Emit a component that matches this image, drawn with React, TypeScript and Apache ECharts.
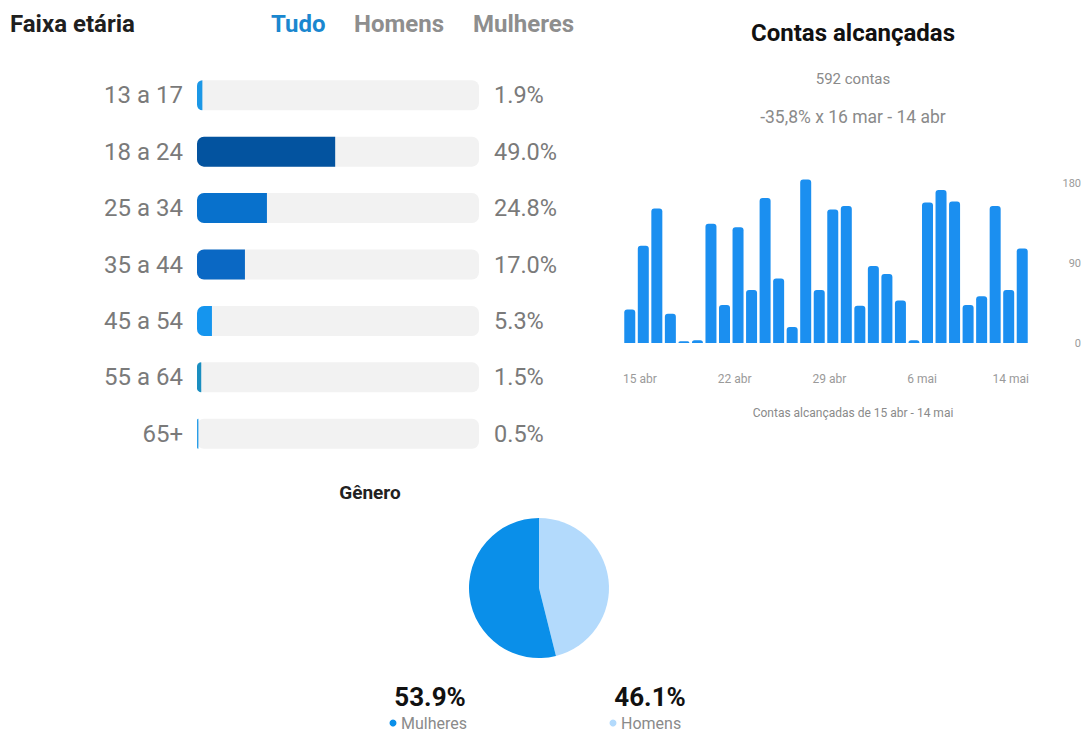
import React, { useEffect, useRef } from "react";
import * as echarts from "echarts";

const ageGroups = ["13 a 17", "18 a 24", "25 a 34", "35 a 44", "45 a 54", "55 a 64", "65+"];
const agePercents = [1.9, 49.0, 24.8, 17.0, 5.3, 1.5, 0.5];
const ageColors = ["#1b97e6", "#03539f", "#0871cc", "#0a68c4", "#1595ee", "#1a8ec0", "#2a9ee8"];
const filterTabs = ["Tudo", "Homens", "Mulheres"];

const reachDates = [
  "15 abr", "16 abr", "17 abr", "18 abr", "19 abr", "20 abr", "21 abr",
  "22 abr", "23 abr", "24 abr", "25 abr", "26 abr", "27 abr", "28 abr",
  "29 abr", "30 abr", "1 mai", "2 mai", "3 mai", "4 mai", "5 mai",
  "6 mai", "7 mai", "8 mai", "9 mai", "10 mai", "11 mai", "12 mai",
  "13 mai", "14 mai",
];
const reachValues = [
  38, 110, 152, 33, 2, 3, 135,
  43, 131, 60, 164, 73, 18, 185,
  60, 151, 155, 42, 87, 78, 48,
  3, 159, 173, 160, 43, 53, 155,
  60, 107,
];
const reachTickValues = [0, 90, 180];
const reachTickDays = [0, 7, 14, 21, 29];

const genderNames = ["Mulheres", "Homens"];
const genderPercents = [53.9, 46.1];
const genderColors = ["#0a8fe9", "#b3dafc"];

const FONT = "Roboto, 'Noto Sans', sans-serif";

function txt(text: string, x: number, y: number, size: number, color: string, weight = "normal", align = "left") {
  return {
    type: "text",
    x,
    y,
    silent: true,
    style: {
      text,
      fontSize: size,
      fontWeight: weight,
      fontFamily: FONT,
      fill: color,
      align,
      textAlign: align,
      verticalAlign: "middle",
      textVerticalAlign: "middle",
    },
  };
}

export default function App() {
  const ref = useRef<HTMLDivElement>(null);

  useEffect(() => {
    if (!ref.current) return;
    const chart = echarts.init(ref.current, null, { renderer: "svg" });

    const tabX = [271, 354, 473];
    const graphics: any[] = [
      txt("Faixa etária", 10, 24, 24, "#1f1f1f", "bold"),
      ...filterTabs.map((t, i) => txt(t, tabX[i], 24, 24, i === 0 ? "#1a87cf" : "#8e8e8e", "bold")),
      txt("Contas alcançadas", 853, 33, 24, "#111111", "bold", "center"),
      txt("592 contas", 853, 79, 15, "#8a8a8a", "normal", "center"),
      txt("-35,8% x 16 mar - 14 abr", 853, 117, 17.5, "#8a8a8a", "normal", "center"),
      txt("Contas alcançadas de " + reachDates[0] + " - " + reachDates[reachDates.length - 1], 853, 413, 12, "#8a8a8a", "normal", "center"),
      txt("Gênero", 370, 492, 19, "#222222", "bold", "center"),
    ];
    const legendX = [430, 650];
    genderNames.forEach((name, i) => {
      graphics.push(txt(genderPercents[i].toFixed(1) + "%", legendX[i], 697, 26, "#111111", "bold", "center"));
      graphics.push({
        type: "circle",
        silent: true,
        shape: { cx: legendX[i] - 37, cy: 723, r: 3.5 },
        style: { fill: genderColors[i] },
      });
      graphics.push(txt(name, legendX[i] - 29, 723, 16, "#8a8a8a", "normal", "left"));
    });

    const option: any = {
      animation: false,
      backgroundColor: "#ffffff",
      textStyle: { fontFamily: FONT },
      grid: [
        { left: 197, width: 282, top: 67, height: 395 },
        { left: 623, right: 53, top: 175, bottom: 390 },
      ],
      xAxis: [
        { gridIndex: 0, type: "value", min: 0, max: 100, show: false },
        {
          gridIndex: 1,
          type: "category",
          data: reachDates,
          axisLine: { show: false },
          axisTick: { show: false },
          axisLabel: { show: false },
        },
        {
          gridIndex: 1,
          type: "value",
          min: 0,
          max: reachDates.length,
          interval: 7,
          position: "bottom",
          axisLine: { show: false },
          axisTick: { show: false },
          splitLine: { show: false },
          axisLabel: {
            showMinLabel: true,
            showMaxLabel: true,
            align: "left",
            alignMaxLabel: "right",
            margin: 30,
            fontSize: 12,
            color: "#9a9a9a",
            fontFamily: FONT,
            formatter: (v: number) => {
              if (v === reachDates.length) return reachDates[reachDates.length - 1];
              return reachTickDays.indexOf(v) >= 0 && v < reachDates.length - 1 ? reachDates[v] : "";
            },
          },
        },
      ],
      yAxis: [
        {
          gridIndex: 0,
          type: "category",
          inverse: true,
          data: ageGroups,
          axisLine: { show: false },
          axisTick: { show: false },
          axisLabel: { margin: 14, fontSize: 24, color: "#7a7a7a", fontFamily: FONT },
        },
        {
          gridIndex: 1,
          type: "value",
          position: "right",
          min: 0,
          max: 190,
          interval: 90,
          splitLine: { show: false },
          axisLine: { show: false },
          axisTick: { show: false },
          axisLabel: {
            showMaxLabel: false,
            align: "right",
            margin: 52,
            fontSize: 11,
            color: "#9a9a9a",
            fontFamily: FONT,
            padding: [0, 0, 6, 0],
            formatter: (v: number) => (reachTickValues.indexOf(v) >= 0 ? String(v) : ""),
          },
        },
      ],
      series: [
        {
          type: "bar",
          xAxisIndex: 0,
          yAxisIndex: 0,
          silent: true,
          barWidth: 30,
          barGap: "-100%",
          data: ageGroups.map(() => 100),
          itemStyle: { color: "#f2f2f2", borderRadius: 7 },
          label: {
            show: true,
            position: "right",
            distance: 15,
            fontSize: 23.5,
            color: "#7a7a7a",
            fontFamily: FONT,
            formatter: (p: any) => agePercents[p.dataIndex].toFixed(1) + "%",
          },
        },
        {
          type: "bar",
          xAxisIndex: 0,
          yAxisIndex: 0,
          silent: true,
          barWidth: 30,
          barGap: "-100%",
          data: agePercents.map((v, i) => ({ value: v, itemStyle: { color: ageColors[i] } })),
          itemStyle: { borderRadius: [7, 0, 0, 7] },
        },
        {
          type: "bar",
          xAxisIndex: 1,
          yAxisIndex: 1,
          silent: true,
          barWidth: 11,
          data: reachValues,
          itemStyle: { color: "#1b8ff0", borderRadius: [3, 3, 0, 0] },
        },
        {
          type: "pie",
          silent: true,
          center: [539, 588],
          radius: 70,
          startAngle: 90,
          clockwise: true,
          label: { show: false },
          labelLine: { show: false },
          data: [1, 0].map((i) => ({
            name: genderNames[i],
            value: genderPercents[i],
            itemStyle: { color: genderColors[i] },
          })),
        },
      ],
      graphic: graphics,
    };

    chart.setOption(option);
    return () => chart.dispose();
  }, []);

  return (
    <div
      ref={ref}
      style={{ position: "absolute", left: 0, top: 0, width: 1084, height: 733 }}
    />
  );
}
